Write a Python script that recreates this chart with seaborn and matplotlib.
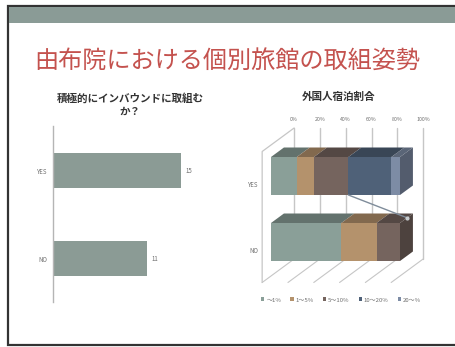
import matplotlib
matplotlib.use("Agg")
import matplotlib.pyplot as plt
from matplotlib.patches import Polygon, Rectangle
from matplotlib.colors import to_rgb
import numpy as np
import pandas as pd
import seaborn as sns

# Survey data
answers = ["YES", "NO"]
answer_counts = [15, 11]
share_bands = ["～1%", "1～5%", "5～10%", "10～20%", "20～%"]
yes_band_counts = [3, 2, 4, 5, 1]
no_band_counts = [6, 3, 2, 0, 0]
percent_ticks = [0, 20, 40, 60, 80, 100]

slide_title = "由布院における個別旅館の取組姿勢"
left_title = "積極的にインバウンドに取組む\nか？"
right_title = "外国人宿泊割合"

band_colors = ["#8a9f98", "#b4926c", "#75645e", "#4f6178", "#7d8ca5"]
bar_gray = "#8b9b95"
line_gray = "#c6c6c6"
label_gray = "#6f6f6f"

W, H = 456, 347
sns.set_theme(style="white")
plt.rcParams["font.family"] = ["Noto Sans CJK JP", "DejaVu Sans"]

fig = plt.figure(figsize=(W / 100, H / 100), dpi=100, facecolor="white")


def pixel_axes(x0, y0, x1, y1, **kw):
    return fig.add_axes([x0 / W, 1 - y1 / H, (x1 - x0) / W, (y1 - y0) / H], **kw)


# Slide frame and header band
bg = pixel_axes(0, 0, W, H)
bg.set_xlim(0, W)
bg.set_ylim(H, 0)
bg.axis("off")
bg.add_patch(Rectangle((8.5, 5.5), W, 339, fc="white", ec="#333333", lw=1.6))
bg.add_patch(Rectangle((9.5, 7), W, 16, fc="#8a9b96", ec="none"))
bg.text(227, 61, slide_title, color="#c4524e", fontsize=17.4, ha="center", va="center")
bg.text(130, 105, left_title, color="#333333", fontsize=7.6, fontweight="bold",
        ha="center", va="center", linespacing=1.35)
bg.text(339, 97, right_title, color="#333333", fontsize=7.6, fontweight="bold",
        ha="center", va="center")

# Horizontal bars: willingness to pursue inbound guests
ax = pixel_axes(53, 126, 230, 302)
ax.patch.set_alpha(0)
sns.barplot(data=pd.DataFrame({"answer": answers, "count": answer_counts}),
            y="answer", x="count", color=bar_gray, saturation=1, width=0.4, ax=ax,
            linewidth=0)
ax.set_xlim(0, 177 / (128 / 15))
ax.set_ylim(1.494, -0.506)
ax.set(xlabel="", ylabel="", xticks=[])
ax.tick_params(axis="y", length=0, labelsize=4.4, labelcolor=label_gray, pad=4)
sns.despine(ax=ax, bottom=True)
ax.spines["left"].set_color("#b5b5b5")
ax.spines["left"].set_linewidth(1)
for i, v in enumerate(answer_counts):
    ax.text(v + 0.55, i, str(v), fontsize=4.4, color=label_gray, va="center", ha="left")

# Stacked 100% bars with an oblique depth projection
PCT = 1.29   # pixels per percent
ROW = 66.0   # pixels per row
ax3 = pixel_axes(240, 110, 440, 300)
ax3.patch.set_alpha(0)
ax3.set_zorder(2)


def project(pct, row, depth):
    # depth is measured in pixels going back along the oblique axis
    return pct + depth * 1.36 / PCT, row - depth / ROW


BAR_DEPTH = 9.5
HALF = 19 / ROW
FLOOR_ROW = 1 + 34 / ROW     # floor level in the bar front plane
TOP_ROW = -31 / ROW          # wall top level in the bar front plane
WALL_DEPTH = 17
FRONT_DEPTH = -6.5

# Back wall, left wall and floor grid
for p in percent_ticks:
    x_back, y_top = project(p, TOP_ROW, WALL_DEPTH)
    _, y_floor = project(p, FLOOR_ROW, WALL_DEPTH)
    x_front, y_front = project(p, FLOOR_ROW, FRONT_DEPTH)
    ax3.plot([x_back, x_back], [y_top, y_floor], color=line_gray, lw=1, zorder=1)
    ax3.plot([x_back, x_front], [y_floor, y_front], color=line_gray, lw=0.8, zorder=1)
    ax3.text(x_back, y_top - 8.5 / ROW, f"{p}%", fontsize=3.8, color=label_gray,
             ha="center", va="center", clip_on=False)
x_b, y_t = project(0, TOP_ROW, WALL_DEPTH)
x_f, y_f = project(0, TOP_ROW, FRONT_DEPTH)
_, y_fb = project(0, FLOOR_ROW, FRONT_DEPTH)
ax3.plot([x_b, x_f, x_f], [y_t, y_f, y_fb], color=line_gray, lw=0.9, zorder=1)


def shade(color, factor):
    return tuple(c * factor for c in to_rgb(color))


# Front faces, drawn longest cumulative first so each segment stays visible
rows = {"YES": yes_band_counts, "NO": no_band_counts}
records = []
for name, counts in rows.items():
    total = sum(counts)
    cum = np.cumsum(counts) / total * 100
    for band, value in zip(share_bands, cum):
        records.append({"answer": name, "band": band, "cum": value})
stack = pd.DataFrame(records)

for i in range(len(share_bands) - 1, -1, -1):
    part = stack[stack["band"] == share_bands[i]]
    sns.barplot(data=part, y="answer", x="cum", order=answers, color=band_colors[i],
                saturation=1, width=HALF * 2, ax=ax3, zorder=4 + (4 - i) * 0.01,
                linewidth=0)

# Top and side faces of each stacked bar
for r, name in enumerate(answers):
    counts = rows[name]
    edges = np.concatenate([[0], np.cumsum(counts) / sum(counts) * 100])
    top, bottom = r - HALF, r + HALF
    for i, color in enumerate(band_colors):
        a, b = edges[i], edges[i + 1]
        if b <= a:
            continue
        ax3.add_patch(Polygon([project(a, top, 0), project(b, top, 0),
                               project(b, top, BAR_DEPTH), project(a, top, BAR_DEPTH)],
                              fc=shade(color, 0.72), ec="none", zorder=3))
    last = [c for c, n in zip(band_colors, counts) if n][-1]
    ax3.add_patch(Polygon([project(100, top, 0), project(100, bottom, 0),
                           project(100, bottom, BAR_DEPTH), project(100, top, BAR_DEPTH)],
                          fc=shade(last, 0.66), ec="none", zorder=3))

# Series line joining the third band across the two rows
yes_edge = sum(yes_band_counts[:3]) / sum(yes_band_counts) * 100
no_edge = sum(no_band_counts[:3]) / sum(no_band_counts) * 100
sx0, sy0 = project(yes_edge, HALF, 0)
sx1, sy1 = project(no_edge, 1 - HALF, BAR_DEPTH * 0.55)
ax3.plot([sx0, sx1], [sy0, sy1], color="#7f8c9a", lw=1, zorder=6)
ax3.plot([sx1], [sy1], "o", ms=2, color="#c8cdd0", zorder=7)

ax3.set_xlim((240 - 271) / PCT, (440 - 271) / PCT)
ax3.set_ylim((300 - 176) / ROW, (110 - 176) / ROW)
ax3.set(xlabel="", ylabel="", xticks=[])
# Category labels sit level with the lower part of the floor, below the bar centres
ax3.set_yticks([r + 8 / ROW for r in range(len(answers))], answers)
ax3.tick_params(axis="y", length=0, labelsize=4.4, labelcolor=label_gray, pad=-13)
for s in ax3.spines.values():
    s.set_visible(False)

# Legend below the chart
handles = [Rectangle((0, 0), 1, 1, fc=c, ec="none") for c in band_colors]
ax3.legend(handles, share_bands, ncol=5, frameon=False, fontsize=4.3,
           labelcolor=label_gray, loc="center", handlelength=0.6, handleheight=0.6,
           handletextpad=0.3, columnspacing=1.5,
           bbox_to_anchor=((341 - 240) / 200, 0.0), borderaxespad=0)

fig.savefig("out.png", dpi=100)
